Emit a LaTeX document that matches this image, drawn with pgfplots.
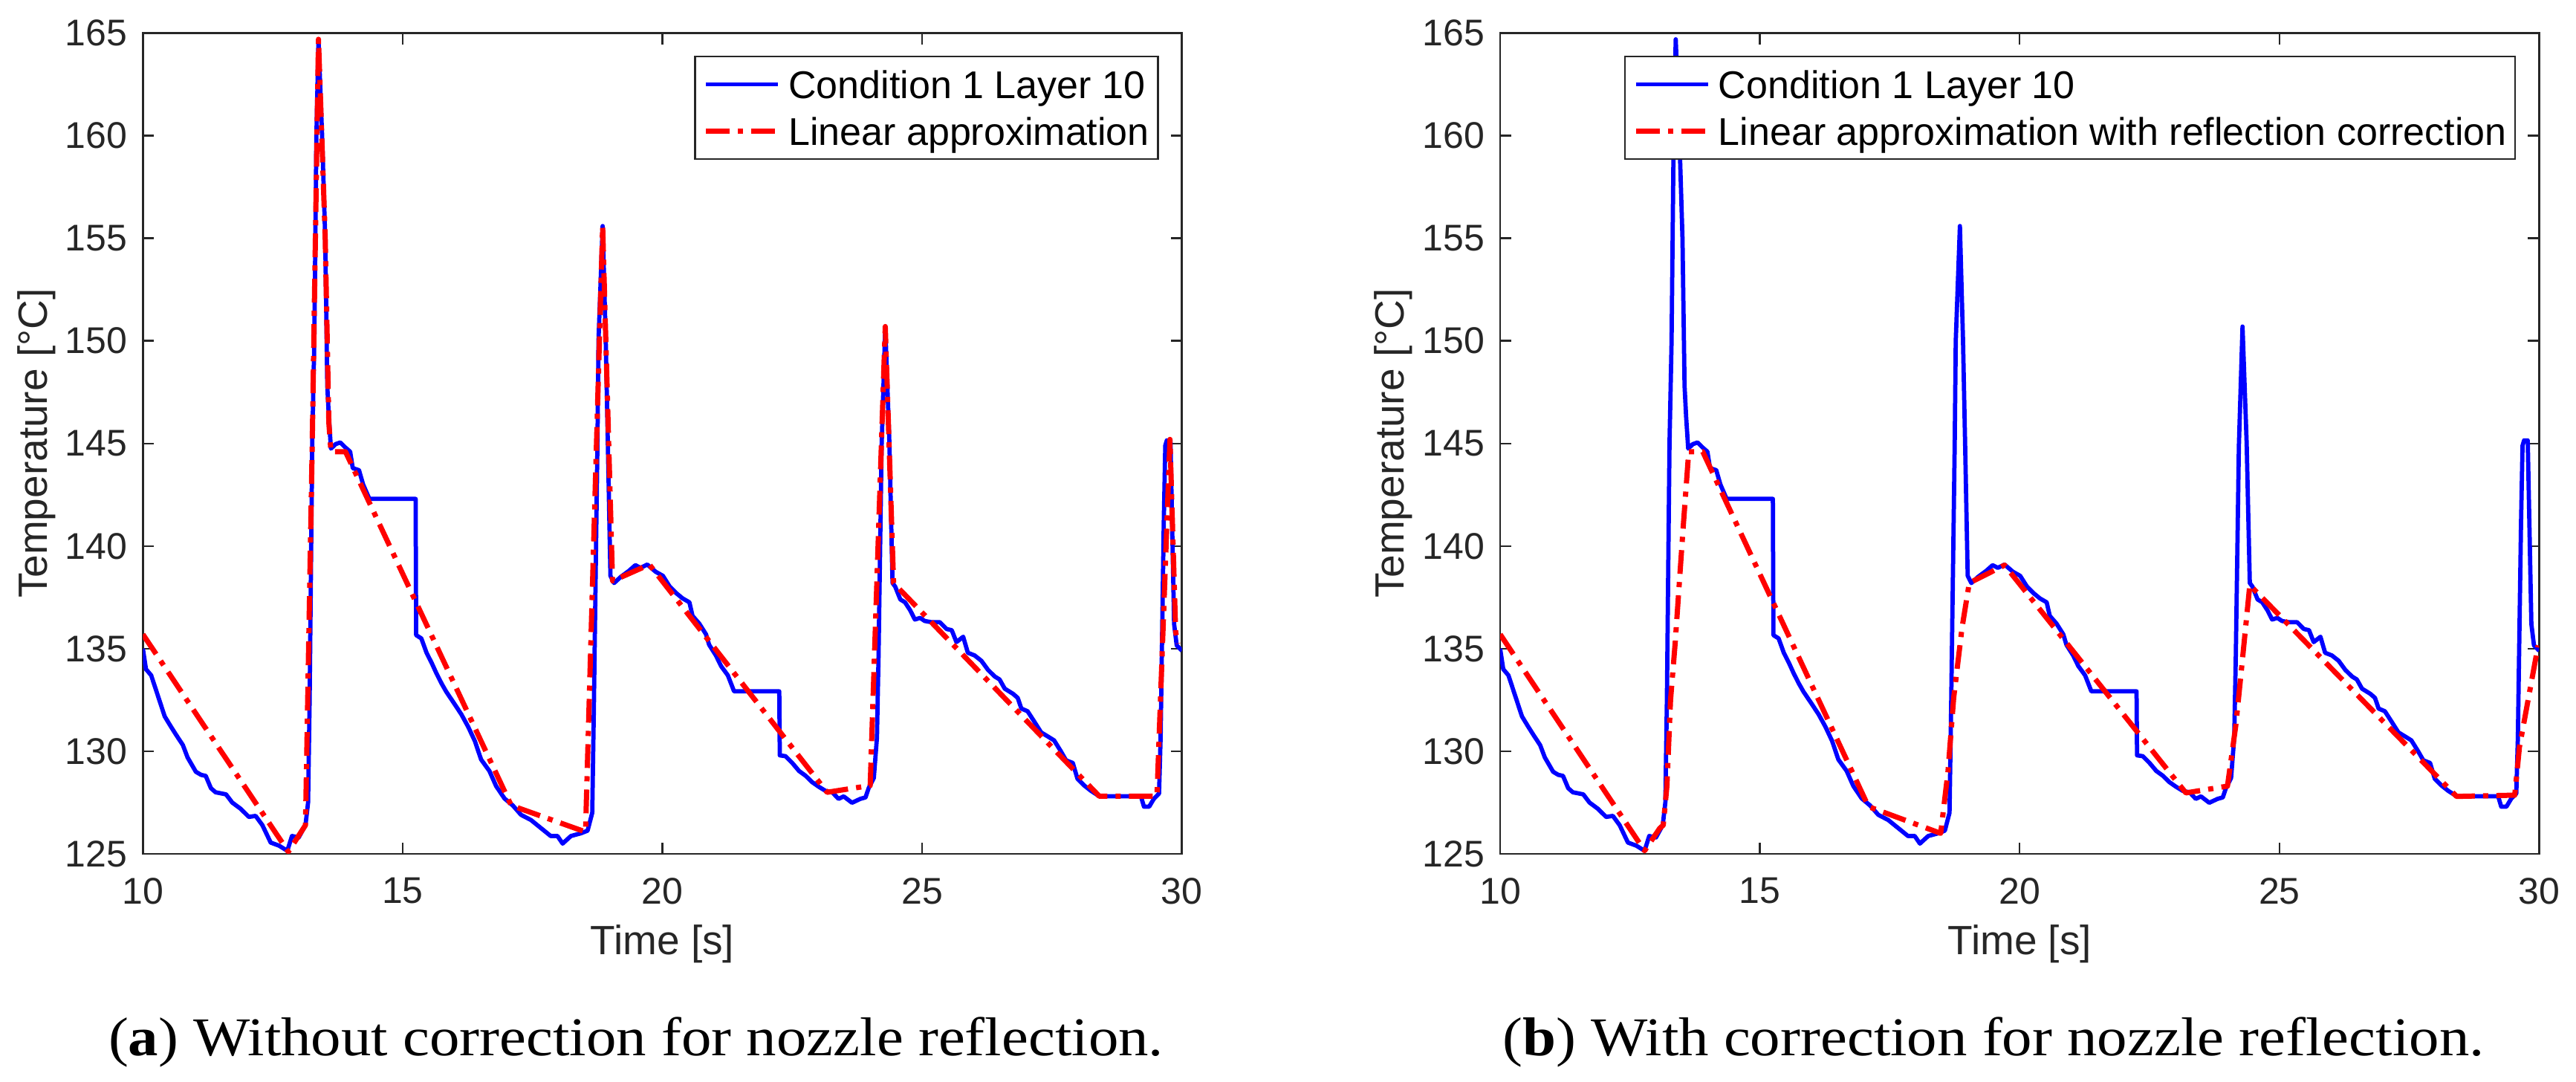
\documentclass[border=0pt]{standalone}
\usepackage{fontspec}
\setmainfont{Liberation Sans}
\newfontfamily\capfont[FakeStretch=1.1]{Liberation Serif}
\usepackage{pgfplots}
\pgfplotsset{compat=1.18}
\usepackage{pgfplotstable}
\definecolor{tickgray}{HTML}{262626}
\definecolor{mblue}{RGB}{0,0,255}
\definecolor{mred}{RGB}{255,0,0}

\pgfplotstableread{
t T
10.00 135.0
10.06 134.0
10.16 133.7
10.29 132.7
10.42 131.7
10.54 131.2
10.64 130.8
10.77 130.3
10.86 129.7
11.02 129.0
11.12 128.85
11.21 128.8
11.31 128.2
11.40 128.0
11.60 127.9
11.72 127.5
11.88 127.2
12.04 126.8
12.17 126.85
12.30 126.4
12.46 125.55
12.62 125.4
12.78 125.15
12.87 125.87
13.00 125.8
13.13 126.4
13.18 127.5
13.21 132.5
13.26 145.0
13.30 150.0
13.34 160.0
13.38 164.7
13.45 160.0
13.51 155.0
13.55 147.8
13.58 146.3
13.62 144.75
13.71 144.97
13.80 145.05
13.90 144.8
13.99 144.6
14.04 143.8
14.16 143.7
14.24 143.0
14.36 142.3
15.25 142.3
15.26 135.66
15.36 135.5
15.46 134.8
15.56 134.3
15.65 133.8
15.75 133.3
15.84 132.9
16.00 132.3
16.13 131.8
16.26 131.2
16.39 130.5
16.51 129.6
16.67 129.04
16.80 128.3
16.96 127.7
17.12 127.36
17.28 126.9
17.47 126.65
17.66 126.26
17.85 125.87
17.98 125.87
18.08 125.5
18.24 125.87
18.43 126.0
18.56 126.13
18.65 127.0
18.68 131.95
18.75 145.0
18.77 150.0
18.85 155.6
18.91 150.0
18.95 145.0
19.00 138.55
19.07 138.2
19.20 138.5
19.36 138.8
19.48 139.07
19.58 138.94
19.71 139.1
19.87 138.75
20.01 138.55
20.14 138.03
20.27 137.7
20.39 137.45
20.52 137.26
20.58 136.6
20.71 136.22
20.84 135.7
20.90 135.19
21.03 134.67
21.13 134.15
21.26 133.7
21.38 132.92
22.25 132.92
22.26 129.8
22.37 129.76
22.50 129.43
22.63 129.04
22.76 128.8
22.88 128.5
23.01 128.27
23.14 128.07
23.27 128.0
23.39 127.68
23.49 127.8
23.65 127.49
23.81 127.68
23.91 127.75
23.97 128.2
24.07 128.7
24.13 130.66
24.16 134.54
24.19 139.7
24.22 144.89
24.29 150.7
24.37 145.0
24.43 138.2
24.48 138.03
24.58 137.4
24.67 137.26
24.77 136.87
24.86 136.42
24.96 136.5
25.05 136.35
25.18 136.29
25.34 136.29
25.47 135.96
25.57 135.9
25.66 135.32
25.79 135.58
25.88 134.8
26.01 134.67
26.14 134.41
26.27 133.96
26.40 133.64
26.49 133.5
26.59 133.05
26.75 132.8
26.84 132.6
26.91 132.08
27.03 131.95
27.16 131.44
27.29 130.92
27.42 130.72
27.54 130.53
27.67 130.0
27.77 129.56
27.90 129.43
27.99 128.66
28.12 128.33
28.25 128.07
28.41 127.81
29.21 127.81
29.27 127.3
29.37 127.3
29.46 127.68
29.56 127.94
29.59 130.66
29.62 135.83
29.65 141.0
29.68 144.9
29.71 145.15
29.78 145.15
29.85 136.2
29.90 135.16
30.00 134.9
}\bluedata

\pgfplotstableread{
t T
10.00 135.7
12.80 125.1
13.13 126.4
13.26 145.0
13.38 164.7
13.51 155.0
13.58 146.0
13.62 144.6
13.90 144.6
17.09 127.36
18.52 126.07
18.85 155.6
19.04 138.3
19.75 139.1
23.17 128.0
24.00 128.33
24.29 150.7
24.45 138.2
28.41 127.81
29.52 127.81
29.77 145.2
29.88 135.8
29.93 135.25
}\redA

\pgfplotstableread{
t T
10.00 135.7
12.78 125.15
13.07 126.24
13.14 126.4
13.21 128.3
13.28 132.5
13.37 135.3
13.52 140.8
13.63 144.6
13.90 144.6
17.09 127.3
18.48 126.0
18.62 129.0
18.73 132.6
18.89 136.0
19.03 138.2
19.71 139.07
23.20 127.97
24.00 128.3
24.16 131.25
24.27 134.0
24.43 138.1
28.41 127.8
29.53 127.86
29.62 130.2
29.98 135.16
}\redB

\pgfplotsset{
  mystyle/.style={
    anchor=south west, scale only axis, width=279.68pt, height=220.88pt,
    xmin=10, xmax=30, ymin=125, ymax=165,
    xtick={10,15,20,25,30}, ytick={125,130,...,165},
    tick align=inside, xtick pos=both, ytick pos=both, major tick length=3pt,
    axis line style={tickgray, line width=0.5pt},
    every tick/.style={tickgray, line width=0.5pt},
    /pgf/number format/assume math mode=true,
    tick label style={font=\fontsize{10}{12}\selectfont, text=tickgray},
    yticklabel style={xshift=-0.7pt},
    xticklabel style={yshift=-2.9pt},
    label style={font=\fontsize{11}{13}\selectfont, text=tickgray},
    xlabel style={at={(axis description cs:0.5,0)}, anchor=base, yshift=-27.2pt},
    ylabel style={at={(axis description cs:-0.1025,0.5)}, anchor=center},
    xlabel={Time [s]}, ylabel={Temperature [°C]},
    legend cell align=left,
    legend style={at={(rel axis cs:1,1)}, anchor=north east, xshift=-6.2pt, yshift=-6pt,
       draw=tickgray, line width=0.5pt, font=\fontsize{10.4}{12}\selectfont,
       inner xsep=2.3pt, inner ysep=3.75pt, row sep=4.9pt, column sep=2.1pt,
       nodes={inner sep=0pt, text height=7.6pt, text depth=0pt}},
    legend image code/.code={\draw[##1] (0pt,0pt) -- (19.4pt,0pt);},
  },
  blueline/.style={mblue, line width=1.15pt, line join=round},
  redline/.style={mred, line width=1.4pt, line join=round, dash pattern=on 6.4pt off 2.2pt on 1.4pt off 2.2pt},
}

\begin{document}
\begin{tikzpicture}
\useasboundingbox (0,0) rectangle (693.4pt,291.2pt);
\begin{axis}[mystyle, at={(38.46pt,61.4pt)}]
\addplot[blueline] table {\bluedata};
\addlegendentry{Condition 1 Layer 10}
\addplot[redline] table {\redA};
\addlegendentry{Linear approximation}
\end{axis}
\begin{axis}[mystyle, at={(403.8pt,61.4pt)}]
\addplot[blueline] table {\bluedata};
\addlegendentry{Condition 1 Layer 10}
\addplot[redline] table {\redB};
\addlegendentry{Linear approximation with reflection correction}
\end{axis}
\node[anchor=base, font=\capfont\fontsize{14.7}{16}\selectfont] at (171.2pt,7pt) {(\textbf{a}) Without correction for nozzle reflection.};
\node[anchor=base, font=\capfont\fontsize{14.7}{16}\selectfont] at (536.6pt,7pt) {(\textbf{b}) With correction for nozzle reflection.};
\end{tikzpicture}
\end{document}
